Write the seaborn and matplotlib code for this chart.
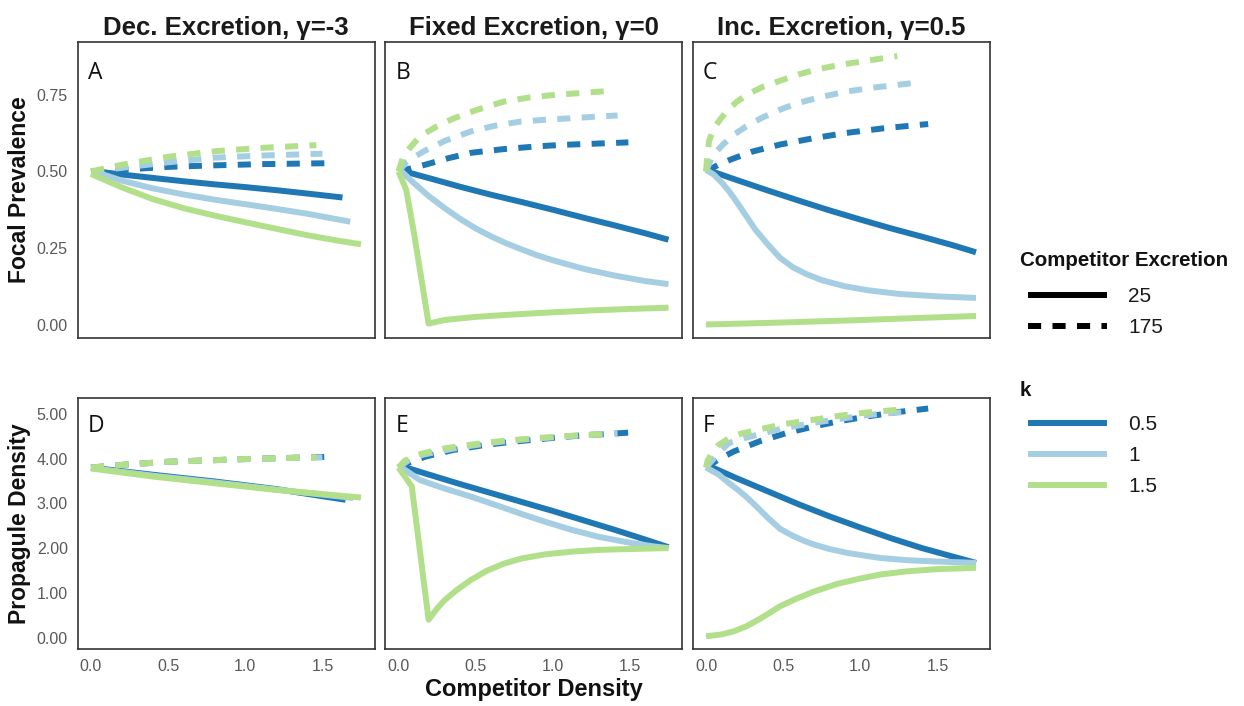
import matplotlib
matplotlib.use("Agg")
import matplotlib.pyplot as plt
from matplotlib.lines import Line2D
from matplotlib.ticker import FixedLocator, FormatStrFormatter
import pandas as pd
import seaborn as sns

# ---------------------------------------------------------------
# Model output: (competitor density, response) for each k / excretion
# ---------------------------------------------------------------
# A: focal prevalence, decreasing excretion (gamma = -3)
A_k05_e25 = [(0.04, 0.500), (0.20, 0.490), (0.40, 0.479), (0.60, 0.468), (0.80, 0.458),
             (1.00, 0.449), (1.20, 0.439), (1.40, 0.428), (1.63, 0.415)]
A_k1_e25 = [(0.02, 0.500), (0.20, 0.470), (0.40, 0.445), (0.60, 0.425), (0.80, 0.408),
            (1.00, 0.393), (1.20, 0.378), (1.40, 0.362), (1.68, 0.336)]
A_k15_e25 = [(0.00, 0.492), (0.20, 0.448), (0.40, 0.410), (0.60, 0.380), (0.80, 0.356),
             (1.00, 0.334), (1.20, 0.313), (1.40, 0.292), (1.60, 0.274), (1.75, 0.262)]
A_k05_e175 = [(0.00, 0.500), (0.20, 0.506), (0.50, 0.515), (0.80, 0.520), (1.10, 0.524), (1.54, 0.527)]
A_k1_e175 = [(0.00, 0.500), (0.20, 0.512), (0.50, 0.530), (0.80, 0.545), (1.10, 0.552), (1.50, 0.558)]
A_k15_e175 = [(0.00, 0.500), (0.20, 0.522), (0.50, 0.548), (0.80, 0.566), (1.10, 0.577), (1.46, 0.586)]

# B: focal prevalence, fixed excretion (gamma = 0)
B_k05_e25 = [(0.04, 0.500), (0.20, 0.478), (0.40, 0.450), (0.60, 0.424), (0.80, 0.400),
             (1.00, 0.375), (1.20, 0.349), (1.40, 0.324), (1.60, 0.298), (1.75, 0.277)]
B_k1_e25 = [(0.02, 0.500), (0.10, 0.462), (0.20, 0.418), (0.30, 0.380), (0.40, 0.345),
            (0.50, 0.314), (0.60, 0.288), (0.70, 0.265), (0.80, 0.245), (0.90, 0.226),
            (1.00, 0.210), (1.20, 0.182), (1.40, 0.160), (1.60, 0.142), (1.75, 0.132)]
B_k15_e25 = [(0.00, 0.500), (0.05, 0.440), (0.10, 0.300), (0.195, 0.003), (0.30, 0.015),
             (0.50, 0.025), (0.75, 0.033), (1.00, 0.040), (1.25, 0.046), (1.50, 0.051), (1.75, 0.055)]
B_k05_e175 = [(0.00, 0.500), (0.08, 0.510), (0.18, 0.523), (0.32, 0.543), (0.47, 0.561),
              (0.68, 0.573), (0.90, 0.582), (1.06, 0.587), (1.23, 0.590), (1.49, 0.595)]
B_k1_e175 = [(0.00, 0.500), (0.05, 0.530), (0.16, 0.565), (0.30, 0.600), (0.47, 0.631),
             (0.63, 0.650), (0.79, 0.663), (0.95, 0.669), (1.12, 0.674), (1.28, 0.679), (1.42, 0.683)]
B_k15_e175 = [(0.00, 0.500), (0.03, 0.548), (0.07, 0.575), (0.14, 0.615), (0.25, 0.648),
              (0.36, 0.674), (0.50, 0.700), (0.68, 0.728), (0.85, 0.742), (1.01, 0.750),
              (1.20, 0.757), (1.36, 0.763)]

# C: focal prevalence, increasing excretion (gamma = 0.5)
C_k05_e25 = [(0.04, 0.500), (0.20, 0.472), (0.40, 0.438), (0.60, 0.405), (0.80, 0.373),
             (1.00, 0.343), (1.20, 0.314), (1.40, 0.287), (1.60, 0.259), (1.75, 0.236)]
C_k1_e25 = [(0.00, 0.505), (0.05, 0.490), (0.10, 0.465), (0.15, 0.435), (0.20, 0.400),
            (0.26, 0.355), (0.32, 0.310), (0.40, 0.262), (0.48, 0.218), (0.56, 0.188),
            (0.65, 0.165), (0.75, 0.145), (0.90, 0.125), (1.05, 0.112), (1.25, 0.100),
            (1.50, 0.092), (1.75, 0.087)]
C_k15_e25 = [(0.00, 0.000), (0.45, 0.006), (0.90, 0.013), (1.30, 0.020), (1.75, 0.028)]
C_k05_e175 = [(0.00, 0.500), (0.08, 0.522), (0.16, 0.539), (0.30, 0.565), (0.48, 0.588),
              (0.70, 0.609), (0.91, 0.626), (1.15, 0.641), (1.44, 0.655)]
C_k1_e175 = [(0.00, 0.500), (0.04, 0.550), (0.11, 0.588), (0.18, 0.620), (0.26, 0.647),
             (0.36, 0.675), (0.47, 0.700), (0.59, 0.723), (0.75, 0.744), (0.91, 0.761),
             (1.10, 0.775), (1.33, 0.788)]
C_k15_e175 = [(0.00, 0.500), (0.01, 0.560), (0.02, 0.600), (0.05, 0.640), (0.09, 0.669),
              (0.14, 0.700), (0.20, 0.728), (0.28, 0.755), (0.37, 0.777), (0.50, 0.800),
              (0.60, 0.817), (0.70, 0.831), (0.85, 0.847), (1.02, 0.860), (1.24, 0.877)]

# D: propagule density, decreasing excretion (gamma = -3)
D_k05_e25 = [(0.00, 3.80), (0.40, 3.64), (0.80, 3.49), (1.20, 3.32), (1.65, 3.08)]
D_k1_e25 = [(0.00, 3.79), (0.40, 3.62), (0.80, 3.47), (1.20, 3.31), (1.70, 3.12)]
D_k15_e25 = [(0.00, 3.78), (0.40, 3.60), (0.80, 3.45), (1.20, 3.30), (1.75, 3.13)]
D_k05_e175 = [(0.00, 3.80), (0.20, 3.86), (0.50, 3.93), (1.00, 3.99), (1.54, 4.04)]
D_k1_e175 = [(0.00, 3.80), (0.20, 3.86), (0.50, 3.93), (1.00, 3.99), (1.50, 4.03)]
D_k15_e175 = [(0.00, 3.80), (0.20, 3.86), (0.50, 3.93), (1.00, 3.99), (1.46, 4.03)]

# E: propagule density, fixed excretion (gamma = 0)
E_k05_e25 = [(0.03, 3.82), (0.20, 3.64), (0.40, 3.43), (0.60, 3.23), (0.80, 3.03),
             (1.00, 2.83), (1.20, 2.62), (1.40, 2.41), (1.60, 2.19), (1.75, 2.02)]
E_k1_e25 = [(0.02, 3.80), (0.14, 3.52), (0.30, 3.33), (0.47, 3.15), (0.65, 2.94),
            (0.80, 2.76), (0.95, 2.59), (1.12, 2.41), (1.30, 2.25), (1.50, 2.12),
            (1.65, 2.04), (1.75, 2.00)]
E_k15_e25 = [(0.00, 3.80), (0.086, 3.38), (0.195, 0.40), (0.25, 0.65), (0.30, 0.84),
             (0.38, 1.07), (0.47, 1.29), (0.57, 1.49), (0.68, 1.65), (0.80, 1.77),
             (0.95, 1.86), (1.12, 1.92), (1.30, 1.96), (1.50, 1.98), (1.75, 2.00)]
E_k05_e175 = [(0.00, 3.80), (0.08, 3.93), (0.18, 4.05), (0.35, 4.19), (0.55, 4.30),
              (0.72, 4.37), (0.90, 4.43), (1.05, 4.48), (1.20, 4.52), (1.35, 4.55), (1.49, 4.58)]
E_k1_e175 = [(0.00, 3.80), (0.06, 3.95), (0.16, 4.09), (0.35, 4.22), (0.55, 4.33),
             (0.72, 4.40), (0.90, 4.45), (1.05, 4.49), (1.20, 4.53), (1.42, 4.57)]
E_k15_e175 = [(0.00, 3.80), (0.04, 3.95), (0.10, 4.05), (0.16, 4.12), (0.30, 4.23),
              (0.55, 4.35), (0.72, 4.41), (0.90, 4.46), (1.08, 4.50), (1.25, 4.53), (1.36, 4.55)]

# F: propagule density, increasing excretion (gamma = 0.5)
F_k05_e25 = [(0.03, 3.82), (0.20, 3.56), (0.40, 3.27), (0.60, 2.98), (0.80, 2.71),
             (1.00, 2.46), (1.20, 2.22), (1.40, 2.00), (1.60, 1.81), (1.75, 1.67)]
F_k1_e25 = [(0.00, 3.80), (0.08, 3.65), (0.15, 3.45), (0.20, 3.32), (0.26, 3.15),
            (0.33, 2.92), (0.40, 2.68), (0.48, 2.43), (0.56, 2.28), (0.63, 2.17),
            (0.70, 2.08), (0.80, 1.98), (0.92, 1.89), (1.05, 1.82), (1.13, 1.78),
            (1.30, 1.73), (1.50, 1.70), (1.75, 1.67)]
F_k15_e25 = [(0.00, 0.03), (0.10, 0.07), (0.18, 0.14), (0.26, 0.25), (0.35, 0.42),
             (0.42, 0.57), (0.48, 0.70), (0.58, 0.86), (0.70, 1.03), (0.85, 1.20),
             (1.00, 1.32), (1.13, 1.41), (1.30, 1.48), (1.50, 1.53), (1.75, 1.56)]
F_k05_e175 = [(0.00, 3.80), (0.08, 3.98), (0.18, 4.16), (0.35, 4.39), (0.52, 4.57),
              (0.70, 4.72), (0.87, 4.84), (1.04, 4.94), (1.24, 5.04), (1.44, 5.12)]
F_k1_e175 = [(0.00, 3.80), (0.05, 4.00), (0.10, 4.20), (0.15, 4.35), (0.25, 4.46),
             (0.35, 4.55), (0.50, 4.68), (0.70, 4.80), (0.87, 4.89), (1.04, 4.97),
             (1.20, 5.02), (1.33, 5.05)]
F_k15_e175 = [(0.00, 3.80), (0.01, 3.95), (0.03, 4.08), (0.08, 4.30), (0.15, 4.46),
              (0.23, 4.56), (0.33, 4.64), (0.50, 4.77), (0.70, 4.87), (0.87, 4.96),
              (1.04, 5.03), (1.24, 5.09)]

panel_titles = ["Dec. Excretion, \u03b3=-3", "Fixed Excretion, \u03b3=0", "Inc. Excretion, \u03b3=0.5"]
row_labels = ["Focal Prevalence", "Propagule Density"]
x_label = "Competitor Density"
k_levels = ["0.5", "1", "1.5"]
excretion_levels = ["25", "175"]
x_ticks = [0.0, 0.5, 1.0, 1.5]
prev_ticks = [0.00, 0.25, 0.50, 0.75]
prop_ticks = [0.0, 1.0, 2.0, 3.0, 4.0, 5.0]

series = {
    "A": [A_k05_e25, A_k05_e175, A_k1_e25, A_k1_e175, A_k15_e25, A_k15_e175],
    "B": [B_k05_e25, B_k05_e175, B_k1_e25, B_k1_e175, B_k15_e25, B_k15_e175],
    "C": [C_k05_e25, C_k05_e175, C_k1_e25, C_k1_e175, C_k15_e25, C_k15_e175],
    "D": [D_k05_e25, D_k05_e175, D_k1_e25, D_k1_e175, D_k15_e25, D_k15_e175],
    "E": [E_k05_e25, E_k05_e175, E_k1_e25, E_k1_e175, E_k15_e25, E_k15_e175],
    "F": [F_k05_e25, F_k05_e175, F_k1_e25, F_k1_e175, F_k15_e25, F_k15_e175],
}

rows = []
for panel, curves in series.items():
    for i, pts in enumerate(curves):
        k = k_levels[i // 2]
        exc = excretion_levels[i % 2]
        for x, y in pts:
            rows.append({"panel": panel, "k": k, "excretion": exc, "x": x, "y": y})
df = pd.DataFrame(rows)

# ---------------------------------------------------------------
# Styling
# ---------------------------------------------------------------
sns.set_style("white")
plt.rcParams["font.family"] = ["Liberation Sans", "DejaVu Sans"]

palette = {"0.5": "#1f78b4", "1": "#a6cee3", "1.5": "#b2df8a"}
DASH = (2.2, 1.9)
dashes = {"25": "", "175": DASH}
LW = 4.3
FRAME = "#333333"
TICK_TXT = "#595959"

fig = plt.figure(figsize=(12.44, 7.06), dpi=100)
W, H = 1244.0, 706.0
lefts = [77.5, 385.0, 692.5]
pw = 297.0
top_row = (42.0, 338.0)
bot_row = (398.0, 649.0)


def make_ax(left, rowspan):
    t, b = rowspan
    return fig.add_axes([left / W, 1 - b / H, pw / W, (b - t) / H])


axes = {}
for j, p in enumerate("ABC"):
    axes[p] = make_ax(lefts[j], top_row)
for j, p in enumerate("DEF"):
    axes[p] = make_ax(lefts[j], bot_row)

for p, ax in axes.items():
    sub = df[df["panel"] == p]
    sns.lineplot(
        data=sub, x="x", y="y", hue="k", style="excretion",
        hue_order=k_levels, style_order=excretion_levels,
        palette=palette, dashes=dashes, estimator=None, sort=False,
        linewidth=LW, legend=False, ax=ax,
        solid_capstyle="butt", dash_capstyle="butt", solid_joinstyle="round",
    )
    ax.set_xlim(-0.0875, 1.8375)
    if p in "ABC":
        ax.set_ylim(-0.044, 0.923)
    else:
        ax.set_ylim(-0.255, 5.355)
    ax.set_xlabel("")
    ax.set_ylabel("")
    for s in ax.spines.values():
        s.set_color(FRAME)
        s.set_linewidth(1.2)
    ax.tick_params(axis="both", length=5, width=1.0, color=FRAME,
                   labelsize=11.5, labelcolor=TICK_TXT, pad=2)
    ax.grid(False)

    # x axis only on the lower row
    if p in "DEF":
        ax.xaxis.set_major_locator(FixedLocator(x_ticks))
        ax.xaxis.set_major_formatter(FormatStrFormatter("%.1f"))
    else:
        ax.set_xticks([])
    # y axis only on the left column
    if p == "A":
        ax.yaxis.set_major_locator(FixedLocator(prev_ticks))
        ax.yaxis.set_major_formatter(FormatStrFormatter("%.2f"))
    elif p == "D":
        ax.yaxis.set_major_locator(FixedLocator(prop_ticks))
        ax.yaxis.set_major_formatter(FormatStrFormatter("%.2f"))
    else:
        ax.set_yticks([])

    ax.text(0.035, 0.935, p, transform=ax.transAxes, ha="left", va="top",
            fontsize=16.5, family=["Open Sans", "DejaVu Sans"], color="#111111")

for ax, title in zip([axes["A"], axes["B"], axes["C"]], panel_titles):
    ax.set_title(title, fontsize=18.5, fontweight="bold", color="#1a1a1a", pad=5)

axes["A"].set_ylabel(row_labels[0], fontsize=16.5, fontweight="bold", color="#111111")
axes["D"].set_ylabel(row_labels[1], fontsize=16.5, fontweight="bold", color="#111111")
axes["A"].yaxis.set_label_coords(-0.155, 0.5)
axes["D"].yaxis.set_label_coords(-0.155, 0.5)
axes["E"].set_xlabel(x_label, fontsize=17, fontweight="bold", color="#111111", labelpad=3)

# ---------------------------------------------------------------
# Legends (titles set as separate text so entries sit indented)
# ---------------------------------------------------------------
legend_kw = dict(
    loc="upper left", frameon=False, fontsize=15,
    handlelength=3.8, handletextpad=1.0, labelspacing=0.58,
    borderpad=0, borderaxespad=0,
)
style_handles = [
    Line2D([], [], color="black", lw=LW, solid_capstyle="butt"),
    Line2D([], [], color="black", lw=LW, dashes=DASH, dash_capstyle="butt"),
]
fig.text(1020 / W, 1 - 261 / H, "Competitor Excretion", ha="left", va="center",
         fontsize=14.8, fontweight="bold", color="#111111")
leg1 = fig.legend(style_handles, excretion_levels,
                  bbox_to_anchor=(1028 / W, 1 - 287 / H), **legend_kw)
for t in leg1.get_texts():
    t.set_color("#1a1a1a")

k_handles = [Line2D([], [], color=palette[k], lw=LW, solid_capstyle="butt") for k in k_levels]
fig.text(1020 / W, 1 - 390 / H, "k", ha="left", va="center",
         fontsize=14.8, fontweight="bold", color="#111111")
leg2 = fig.legend(k_handles, k_levels,
                  bbox_to_anchor=(1028 / W, 1 - 415 / H), **legend_kw)
for t in leg2.get_texts():
    t.set_color("#1a1a1a")

fig.savefig("out.png", dpi=100, facecolor="white")
